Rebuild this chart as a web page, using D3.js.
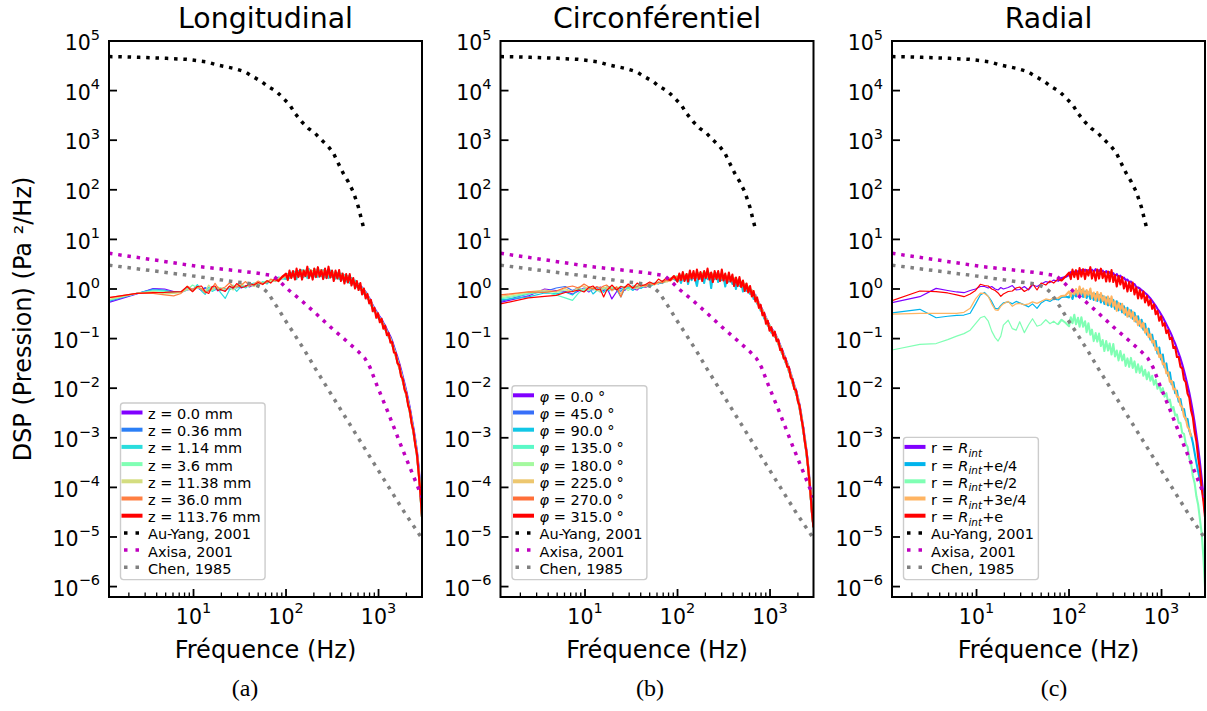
<!DOCTYPE html>
<html lang="fr">

<head>
    <meta charset="UTF-8" />
    <title>DSP de pression</title>
    <script src="https://d3js.org/d3.v7.min.js"></script>
    <style>
        body { margin: 0; background: #fff; }
        svg text { font-family: "DejaVu Sans", sans-serif; fill: #000; white-space: pre; }
        svg text.caption { font-family: "Liberation Serif", serif; }
    </style>
</head>

<body>
    <script>
        // frequency bins shared by every measured spectrum (Hz)
        const freq = [1.22, 2.44, 3.66, 4.88, 6.1, 7.32, 8.54, 9.76, 11.0, 12.2, 13.4, 14.6, 15.9, 17.1, 18.3, 19.5,
            22.0, 24.4, 26.8, 29.3, 32.9, 36.6, 40.3, 45.1, 50.0, 56.1, 62.2, 68.3, 75.6, 83.0, 91.5,
            100, 104.5, 109, 114, 119, 125, 130, 136, 142, 149,
            155, 162, 170, 177, 185, 194, 202, 211, 221, 231,
            241, 252, 264, 275, 288, 301, 314, 328, 343, 359,
            375, 392, 409, 428, 447, 467, 488, 510, 533, 557,
            582, 608, 636, 664, 694, 725, 758, 792, 828, 865,
            904, 945, 987, 1032, 1078, 1127, 1177, 1230, 1286, 1344,
            1404, 1467, 1533, 1602, 1674, 1750, 1828, 1911, 1997, 2086,
            2180, 2278, 2381, 2488, 2600, 2717, 2839, 2950];

        // measured spectra, stored as log10 of the DSP (Pa^2/Hz)
        // (a) longitudinal positions
        const zLabels = ["z = 0.0 mm", "z = 0.36 mm", "z = 1.14 mm", "z = 3.6 mm", "z = 11.38 mm", "z = 36.0 mm", "z = 113.76 mm"];
        const dspZ0 = [-0.27, -0.1, 0.01, 0.0, -0.05, -0.07, -0.02, 0.0, 0.03, -0.03, 0.02, 0.0, -0.02, 0.03, -0.04, 0.01,
            -0.03, 0.04, 0.0, 0.06, 0.02, 0.07, 0.04, 0.09, 0.1, 0.12, 0.14, 0.15, 0.19, 0.2, 0.23,
            0.22, 0.3, 0.25, 0.31, 0.27, 0.33, 0.28, 0.34, 0.27, 0.33, 0.29, 0.34, 0.3, 0.36, 0.28, 0.35, 0.3, 0.35, 0.29, 0.34,
            0.28, 0.33, 0.3, 0.34, 0.27, 0.32, 0.28, 0.31, 0.26, 0.3, 0.25, 0.29, 0.24, 0.26, 0.21, 0.23, 0.18, 0.2, 0.15, 0.16,
            0.11, 0.1, 0.06, 0.03, -0.02, -0.06, -0.12, -0.18, -0.25, -0.33, -0.39, -0.45, -0.51, -0.56, -0.61, -0.68, -0.74, -0.82, -0.89, -0.96,
            -1.05, -1.16, -1.27, -1.38, -1.5, -1.63, -1.77, -1.91, -2.06, -2.22, -2.4, -2.6, -2.8, -3.02, -3.27, -3.6, -4.05, -4.55];
        const dspZ036 = [-0.25, -0.09, 0.0, -0.02, -0.06, -0.06, 0.0, -0.03, 0.05, -0.01, 0.03, -0.04, 0.04, 0.0, 0.02, -0.03,
            0.01, 0.0, 0.05, 0.02, 0.07, 0.03, 0.08, 0.06, 0.11, 0.13, 0.12, 0.17, 0.18, 0.22, 0.22,
            0.24, 0.28, 0.26, 0.32, 0.26, 0.31, 0.3, 0.33, 0.29, 0.35, 0.28, 0.33, 0.31, 0.34, 0.3, 0.36, 0.29, 0.34, 0.31, 0.33,
            0.29, 0.34, 0.28, 0.33, 0.3, 0.31, 0.27, 0.31, 0.27, 0.29, 0.26, 0.27, 0.25, 0.24, 0.22, 0.21, 0.19, 0.17, 0.16, 0.13,
            0.11, 0.07, 0.05, 0.01, -0.03, -0.08, -0.14, -0.2, -0.27, -0.35, -0.41, -0.47, -0.53, -0.58, -0.63, -0.7, -0.77, -0.85, -0.92, -0.99,
            -1.08, -1.19, -1.3, -1.42, -1.54, -1.67, -1.81, -1.95, -2.1, -2.26, -2.44, -2.64, -2.84, -3.06, -3.31, -3.65, -4.1, -4.58];
        const dspZ114 = [-0.23, -0.09, -0.02, -0.03, -0.07, -0.06, 0.03, -0.02, 0.09, -0.04, -0.11, 0.04, -0.05, -0.02, 0.03, -0.07,
            -0.19, -0.02, 0.04, -0.05, 0.06, 0.02, 0.09, 0.12, 0.08, 0.15, 0.1, 0.18, 0.15, 0.23, 0.21,
            0.2, 0.3, 0.22, 0.33, 0.25, 0.35, 0.2, 0.36, 0.27, 0.38, 0.24, 0.37, 0.22, 0.4, 0.27, 0.36, 0.25, 0.39, 0.24, 0.37,
            0.26, 0.38, 0.23, 0.36, 0.22, 0.37, 0.24, 0.33, 0.21, 0.32, 0.2, 0.31, 0.19, 0.28, 0.15, 0.26, 0.12, 0.22, 0.09, 0.17,
            0.04, 0.1, -0.02, 0.02, -0.1, -0.08, -0.2, -0.2, -0.33, -0.36, -0.46, -0.49, -0.58, -0.6, -0.68, -0.72, -0.82, -0.87, -0.97, -1.01,
            -1.13, -1.22, -1.35, -1.45, -1.59, -1.7, -1.86, -1.98, -2.15, -2.29, -2.49, -2.67, -2.89, -3.09, -3.36, -3.69, -4.16, -4.6];
        const dspZ36 = [-0.22, -0.09, -0.04, -0.05, -0.08, -0.07, -0.02, 0.08, 0.02, 0.0, -0.05, 0.01, -0.03, 0.04, 0.0, 0.03,
            -0.02, 0.05, 0.08, 0.03, 0.07, 0.05, 0.06, 0.1, 0.09, 0.14, 0.16, 0.15, 0.2, 0.19, 0.24,
            0.28, 0.24, 0.32, 0.25, 0.33, 0.27, 0.36, 0.28, 0.37, 0.26, 0.38, 0.27, 0.4, 0.28, 0.38, 0.29, 0.39, 0.28, 0.41, 0.27,
            0.38, 0.29, 0.37, 0.28, 0.39, 0.26, 0.35, 0.27, 0.33, 0.25, 0.32, 0.24, 0.3, 0.21, 0.26, 0.19, 0.22, 0.15, 0.18, 0.11,
            0.12, 0.05, 0.06, -0.02, -0.02, -0.1, -0.13, -0.22, -0.26, -0.37, -0.41, -0.49, -0.53, -0.6, -0.64, -0.72, -0.78, -0.87, -0.93, -1.01,
            -1.1, -1.22, -1.32, -1.45, -1.56, -1.7, -1.83, -1.98, -2.12, -2.29, -2.46, -2.67, -2.86, -3.09, -3.33, -3.69, -4.14, -4.6];
        const dspZ1138 = [-0.21, -0.09, -0.05, -0.1, -0.09, -0.07, 0.0, -0.04, 0.03, 0.01, -0.04, 0.08, -0.01, 0.02, 0.05, -0.02,
            0.0, 0.03, -0.02, 0.06, 0.11, 0.04, 0.08, 0.05, 0.12, 0.1, 0.15, 0.17, 0.16, 0.21, 0.22,
            0.27, 0.29, 0.3, 0.29, 0.32, 0.3, 0.35, 0.31, 0.36, 0.3, 0.37, 0.31, 0.39, 0.3, 0.38, 0.32, 0.4, 0.31, 0.37, 0.3,
            0.38, 0.31, 0.39, 0.3, 0.36, 0.29, 0.35, 0.28, 0.34, 0.27, 0.31, 0.25, 0.29, 0.22, 0.25, 0.19, 0.21, 0.15, 0.17, 0.11,
            0.11, 0.05, 0.05, -0.02, -0.03, -0.11, -0.14, -0.23, -0.27, -0.38, -0.42, -0.5, -0.54, -0.61, -0.65, -0.73, -0.79, -0.88, -0.94, -1.02,
            -1.11, -1.23, -1.33, -1.46, -1.57, -1.71, -1.84, -1.99, -2.13, -2.3, -2.47, -2.68, -2.87, -3.1, -3.34, -3.7, -4.15, -4.6];
        const dspZ360 = [-0.175, -0.09, -0.09, -0.12, -0.14, -0.09, 0.06, -0.01, 0.05, 0.0, -0.08, -0.04, 0.02, 0.115, 0.03, 0.0,
            0.04, 0.12, 0.05, 0.04, 0.08, 0.15, 0.06, 0.1, 0.16, 0.11, 0.13, 0.2, 0.17, 0.18, 0.25,
            0.26, 0.22, 0.3, 0.24, 0.31, 0.25, 0.33, 0.26, 0.34, 0.27, 0.33, 0.26, 0.35, 0.27, 0.34, 0.26, 0.36, 0.27, 0.35, 0.26,
            0.34, 0.27, 0.35, 0.26, 0.33, 0.26, 0.32, 0.25, 0.31, 0.24, 0.3, 0.23, 0.28, 0.2, 0.24, 0.17, 0.2, 0.13, 0.16, 0.09,
            0.1, 0.03, 0.04, -0.04, -0.04, -0.12, -0.15, -0.24, -0.28, -0.39, -0.43, -0.51, -0.55, -0.62, -0.66, -0.74, -0.8, -0.89, -0.95, -1.03,
            -1.12, -1.24, -1.34, -1.47, -1.58, -1.72, -1.85, -2.0, -2.14, -2.31, -2.48, -2.69, -2.88, -3.11, -3.35, -3.71, -4.15, -4.6];
        const dspZ11376 = [-0.175, -0.09, -0.075, -0.07, -0.06, -0.055, 0.05, -0.055, 0.05, 0.06, -0.055, -0.09, 0.05, 0.06, -0.03, -0.01,
            -0.05, 0.06, 0.02, 0.11, 0.03, 0.05, 0.11, 0.08, 0.13, 0.09, 0.17, 0.12, 0.21, 0.16, 0.25,
            0.31, 0.18, 0.37, 0.22, 0.36, 0.19, 0.41, 0.24, 0.39, 0.19, 0.37, 0.26, 0.45, 0.22, 0.37, 0.19, 0.41, 0.24, 0.44, 0.25,
            0.38, 0.2, 0.41, 0.22, 0.45, 0.23, 0.37, 0.16, 0.37, 0.21, 0.38, 0.16, 0.31, 0.11, 0.3, 0.13, 0.3, 0.07, 0.22, 0.01,
            0.16, -0.02, 0.12, -0.11, 0.01, -0.19, -0.1, -0.29, -0.22, -0.45, -0.38, -0.58, -0.49, -0.67, -0.6, -0.8, -0.74, -0.93, -0.89, -1.08,
            -1.07, -1.28, -1.29, -1.5, -1.53, -1.76, -1.81, -2.03, -2.1, -2.34, -2.45, -2.71, -2.85, -3.13, -3.32, -3.72, -4.13, -4.6];

        // (b) circumferential positions
        const phiLabels = ["φ = 0.0 °", "φ = 45.0 °", "φ = 90.0 °", "φ = 135.0 °", "φ = 180.0 °", "φ = 225.0 °", "φ = 270.0 °", "φ = 315.0 °"];
        const dspPhi0 = [-0.27, -0.14, 0.0, -0.03, -0.05, -0.1, -0.04, 0.02, -0.06, 0.01, -0.02, 0.04, -0.03, 0.02, -0.08, -0.2,
            -0.05, 0.02, -0.03, 0.05, 0.0, -0.02, 0.06, 0.03, 0.08, 0.1, 0.13, 0.12, 0.18, 0.2, 0.22,
            0.25, 0.19, 0.27, 0.2, 0.28, 0.21, 0.29, 0.22, 0.3, 0.22, 0.3, 0.23, 0.31, 0.23, 0.32, 0.24, 0.31, 0.24, 0.32, 0.23,
            0.3, 0.23, 0.31, 0.22, 0.29, 0.22, 0.28, 0.2, 0.26, 0.19, 0.24, 0.17, 0.21, 0.14, 0.18, 0.1, 0.14, 0.07, 0.1, 0.02,
            0.04, -0.03, -0.03, -0.1, -0.12, -0.22, -0.28, -0.36, -0.42, -0.5, -0.58, -0.66, -0.73, -0.79, -0.84, -0.89, -0.96, -1.04, -1.13, -1.22,
            -1.31, -1.4, -1.49, -1.59, -1.7, -1.82, -1.94, -2.04, -2.18, -2.34, -2.54, -2.77, -3.01, -3.28, -3.6, -4.0, -4.45, -4.8];
        const dspPhi45 = [-0.25, -0.1, -0.05, 0.02, 0.05, -0.03, 0.03, -0.04, 0.05, -0.02, 0.04, -0.06, 0.03, -0.01, 0.05, -0.03,
            0.02, -0.05, 0.04, 0.01, 0.06, 0.03, 0.02, 0.08, 0.06, 0.12, 0.1, 0.15, 0.17, 0.19, 0.21,
            0.19, 0.26, 0.2, 0.27, 0.21, 0.28, 0.22, 0.29, 0.22, 0.3, 0.23, 0.3, 0.22, 0.31, 0.24, 0.31, 0.24, 0.32, 0.23, 0.3,
            0.23, 0.3, 0.22, 0.29, 0.22, 0.28, 0.2, 0.27, 0.19, 0.25, 0.17, 0.22, 0.14, 0.2, 0.11, 0.16, 0.07, 0.12, 0.03, 0.07,
            -0.03, 0.01, -0.1, -0.07, -0.19, -0.21, -0.34, -0.35, -0.48, -0.51, -0.64, -0.67, -0.79, -0.8, -0.9, -0.9, -1.02, -1.05, -1.19, -1.23,
            -1.37, -1.41, -1.55, -1.6, -1.76, -1.83, -2.0, -2.05, -2.24, -2.35, -2.6, -2.79, -3.08, -3.3, -3.66, -4.03, -4.5, -4.8];
        const dspPhi90 = [-0.22, -0.16, -0.08, -0.1, -0.06, -0.12, 0.0, -0.05, 0.04, -0.1, -0.03, 0.02, -0.07, 0.0, -0.04, 0.03,
            -0.02, -0.16, 0.0, 0.04, -0.03, 0.05, 0.01, 0.07, 0.04, 0.1, 0.13, 0.11, 0.16, 0.2, 0.2,
            0.16, 0.24, 0.12, 0.25, 0.17, 0.28, 0.1, 0.27, 0.18, 0.29, 0.2, 0.06, 0.28, 0.21, 0.3, 0.12, 0.29, 0.2, 0.31, 0.02,
            0.27, 0.2, 0.3, 0.14, 0.28, 0.18, 0.26, 0.05, 0.24, 0.15, 0.22, 0.1, 0.2, 0.0, 0.17, 0.06, 0.13, -0.05, 0.08, -0.04,
            0.02, -0.1, -0.05, -0.2, -0.14, -0.3, -0.3, -0.44, -0.44, -0.6, -0.6, -0.74, -0.76, -0.88, -0.87, -0.97, -0.99, -1.12, -1.16, -1.3,
            -1.34, -1.48, -1.52, -1.67, -1.73, -1.9, -1.97, -2.12, -2.21, -2.42, -2.57, -2.86, -3.05, -3.37, -3.64, -4.08, -4.5, -4.8];
        const dspPhi135 = [-0.2, -0.1, -0.06, -0.12, -0.18, -0.23, -0.08, 0.01, -0.04, 0.03, -0.02, -0.06, 0.02, -0.03, 0.04, 0.0,
            0.03, -0.02, 0.05, 0.01, 0.06, 0.02, 0.08, 0.05, 0.09, 0.12, 0.11, 0.16, 0.15, 0.2, 0.23,
            0.25, 0.2, 0.27, 0.21, 0.27, 0.22, 0.29, 0.23, 0.28, 0.24, 0.3, 0.24, 0.31, 0.24, 0.3, 0.25, 0.32, 0.25, 0.31, 0.24,
            0.3, 0.24, 0.3, 0.23, 0.29, 0.22, 0.28, 0.21, 0.26, 0.19, 0.24, 0.17, 0.21, 0.14, 0.18, 0.1, 0.14, 0.06, 0.1, 0.01,
            0.04, -0.05, -0.03, -0.13, -0.14, -0.27, -0.29, -0.41, -0.43, -0.56, -0.59, -0.72, -0.74, -0.85, -0.86, -0.95, -0.98, -1.1, -1.15, -1.28,
            -1.33, -1.46, -1.51, -1.65, -1.72, -1.88, -1.96, -2.1, -2.2, -2.4, -2.56, -2.84, -3.04, -3.35, -3.63, -4.07, -4.48, -4.8];
        const dspPhi180 = [-0.18, -0.08, -0.04, -0.07, -0.02, -0.05, 0.02, -0.03, 0.05, 0.0, -0.04, 0.03, 0.0, 0.05, -0.02, 0.04,
            0.01, 0.06, 0.02, -0.03, 0.05, 0.08, 0.04, 0.09, 0.07, 0.1, 0.14, 0.13, 0.17, 0.19, 0.24,
            0.26, 0.21, 0.27, 0.22, 0.29, 0.23, 0.3, 0.24, 0.3, 0.25, 0.31, 0.25, 0.32, 0.25, 0.33, 0.26, 0.33, 0.26, 0.32, 0.25,
            0.31, 0.25, 0.31, 0.24, 0.3, 0.23, 0.29, 0.22, 0.27, 0.2, 0.25, 0.18, 0.22, 0.15, 0.19, 0.11, 0.15, 0.07, 0.11, 0.02,
            0.05, -0.04, -0.02, -0.12, -0.13, -0.26, -0.28, -0.4, -0.42, -0.55, -0.58, -0.71, -0.73, -0.84, -0.85, -0.94, -0.97, -1.09, -1.14, -1.27,
            -1.32, -1.45, -1.5, -1.64, -1.71, -1.87, -1.95, -2.09, -2.19, -2.39, -2.55, -2.83, -3.03, -3.34, -3.62, -4.06, -4.48, -4.8];
        const dspPhi225 = [-0.15, -0.06, -0.02, -0.05, 0.01, -0.06, 0.04, 0.06, -0.02, 0.03, 0.0, -0.05, 0.04, 0.01, 0.03, -0.04,
            0.05, -0.1, 0.02, 0.06, 0.03, 0.0, 0.07, 0.04, 0.1, 0.08, 0.12, 0.15, 0.14, 0.2, 0.22,
            0.2, 0.25, 0.21, 0.26, 0.22, 0.27, 0.23, 0.28, 0.23, 0.29, 0.24, 0.29, 0.24, 0.3, 0.25, 0.3, 0.25, 0.31, 0.25, 0.3,
            0.24, 0.29, 0.24, 0.28, 0.23, 0.27, 0.22, 0.26, 0.2, 0.24, 0.18, 0.21, 0.15, 0.19, 0.12, 0.15, 0.08, 0.11, 0.04, 0.06,
            -0.02, 0.0, -0.09, -0.08, -0.2, -0.22, -0.35, -0.36, -0.49, -0.52, -0.65, -0.68, -0.8, -0.81, -0.91, -0.91, -1.03, -1.06, -1.2, -1.24,
            -1.38, -1.42, -1.56, -1.61, -1.77, -1.84, -2.01, -2.06, -2.25, -2.36, -2.61, -2.8, -3.09, -3.31, -3.67, -4.03, -4.52, -4.8];
        const dspPhi270 = [-0.12, -0.06, -0.07, -0.04, 0.03, 0.06, 0.02, 0.1, 0.04, 0.0, 0.05, 0.02, 0.06, 0.08, 0.03, -0.02,
            0.04, -0.16, 0.03, 0.06, 0.02, 0.05, 0.09, 0.06, 0.11, 0.09, 0.14, 0.12, 0.18, 0.17, 0.23,
            0.24, 0.21, 0.26, 0.21, 0.26, 0.22, 0.28, 0.23, 0.27, 0.24, 0.29, 0.24, 0.29, 0.24, 0.3, 0.25, 0.3, 0.25, 0.3, 0.24,
            0.29, 0.24, 0.29, 0.23, 0.28, 0.22, 0.27, 0.21, 0.25, 0.19, 0.23, 0.17, 0.2, 0.14, 0.17, 0.1, 0.13, 0.06, 0.09, 0.01,
            0.03, -0.05, -0.04, -0.13, -0.15, -0.27, -0.3, -0.41, -0.44, -0.56, -0.6, -0.72, -0.75, -0.85, -0.87, -0.95, -0.99, -1.1, -1.16, -1.28,
            -1.34, -1.46, -1.52, -1.65, -1.73, -1.88, -1.97, -2.1, -2.21, -2.4, -2.57, -2.84, -3.05, -3.35, -3.64, -4.07, -4.5, -4.8];
        const dspPhi315 = [-0.3, -0.18, -0.15, -0.13, -0.07, -0.05, -0.02, -0.06, 0.03, 0.06, -0.02, 0.0, -0.16, -0.03, 0.02, 0.08,
            -0.02, 0.05, 0.03, 0.1, 0.02, 0.12, 0.06, 0.09, 0.14, 0.1, 0.2, 0.15, 0.22, 0.18, 0.26,
            0.15, 0.31, 0.18, 0.34, 0.16, 0.3, 0.15, 0.37, 0.21, 0.36, 0.17, 0.39, 0.2, 0.34, 0.16, 0.36, 0.22, 0.41, 0.19, 0.33,
            0.14, 0.36, 0.2, 0.36, 0.16, 0.39, 0.17, 0.31, 0.12, 0.33, 0.15, 0.29, 0.06, 0.23, 0.06, 0.24, 0.04, 0.17, -0.04, 0.11,
            -0.07, 0.06, -0.15, -0.04, -0.25, -0.17, -0.38, -0.32, -0.53, -0.48, -0.7, -0.64, -0.84, -0.77, -0.94, -0.86, -1.05, -1.02, -1.23, -1.21,
            -1.4, -1.39, -1.57, -1.58, -1.79, -1.82, -2.02, -2.04, -2.26, -2.35, -2.61, -2.79, -3.09, -3.3, -3.67, -4.03, -4.52, -4.8];

        // (c) radial positions
        const rLabels = ["r = R_int", "r = R_int+e/4", "r = R_int+e/2", "r = R_int+3e/4", "r = R_int+e"];
        const dspRint = [-0.275, -0.155, 0.013, -0.03, -0.06, -0.075, -0.03, 0.0, 0.05, 0.05, 0.02, 0.05, 0.0, -0.02, 0.03, 0.0,
            0.03, 0.07, -0.02, -0.01, 0.05, -0.02, 0.08, 0.05, 0.1, 0.15, 0.13, 0.18, 0.16, 0.22, 0.24,
            0.28, 0.34, 0.31, 0.35, 0.32, 0.36, 0.33, 0.38, 0.34, 0.39, 0.35, 0.38, 0.36, 0.39, 0.35, 0.4, 0.34, 0.38, 0.33, 0.37,
            0.32, 0.36, 0.31, 0.34, 0.29, 0.32, 0.26, 0.3, 0.24, 0.27, 0.21, 0.23, 0.18, 0.19, 0.14, 0.15, 0.09, 0.1, 0.04, 0.03,
            0.01, -0.02, -0.05, -0.08, -0.11, -0.15, -0.19, -0.24, -0.29, -0.34, -0.4, -0.45, -0.51, -0.57, -0.64, -0.71, -0.78, -0.85, -0.93, -1.02,
            -1.1, -1.2, -1.3, -1.4, -1.52, -1.65, -1.79, -1.94, -2.09, -2.27, -2.47, -2.69, -2.94, -3.2, -3.49, -3.82, -4.17, -4.52];
        const dspRe4 = [-0.48, -0.41, -0.58, -0.55, -0.53, -0.525, -0.49, -0.3, -0.12, -0.07, -0.15, -0.25, -0.39, -0.4, -0.33, -0.28,
            -0.26, -0.3, -0.25, -0.28, -0.32, -0.36, -0.3, -0.39, -0.28, -0.22, -0.25, -0.2, -0.22, -0.16, -0.15,
            -0.17, -0.08, -0.2, -0.06, -0.15, -0.04, -0.14, -0.02, -0.16, -0.05, -0.18, -0.07, -0.2, -0.09, -0.22, -0.1, -0.24, -0.12, -0.27, -0.14,
            -0.3, -0.17, -0.33, -0.2, -0.36, -0.22, -0.4, -0.25, -0.43, -0.3, -0.47, -0.35, -0.52, -0.38, -0.55, -0.43, -0.6, -0.48, -0.66, -0.55,
            -0.74, -0.62, -0.82, -0.7, -0.92, -0.8, -1.02, -0.92, -1.14, -1.05, -1.3, -1.18, -1.42, -1.32, -1.58, -1.5, -1.75, -1.68, -1.92, -1.88,
            -2.1, -2.05, -2.27, -2.22, -2.44, -2.42, -2.64, -2.62, -2.86, -2.95, -3.1, -3.3, -3.5, -3.68, -3.85, -4.0, -4.2, -4.4];
        const dspRe2 = [-1.23, -1.115, -1.1, -1.02, -0.95, -0.9, -0.83, -0.7, -0.58, -0.55, -0.65, -0.85, -0.98, -1.05, -0.95, -0.73,
            -0.63, -0.8, -0.83, -0.66, -0.88, -0.72, -0.6, -0.75, -0.72, -0.62, -0.7, -0.65, -0.72, -0.62, -0.68,
            -0.75, -0.57, -0.69, -0.52, -0.71, -0.58, -0.76, -0.57, -0.76, -0.65, -0.87, -0.69, -0.92, -0.82, -1.05, -0.89, -1.06, -0.9, -1.15, -1.03,
            -1.25, -1.05, -1.24, -1.1, -1.32, -1.11, -1.36, -1.24, -1.44, -1.25, -1.44, -1.32, -1.55, -1.4, -1.57, -1.39, -1.59, -1.46, -1.68, -1.52,
            -1.69, -1.56, -1.75, -1.63, -1.82, -1.68, -1.85, -1.75, -1.93, -1.83, -2.01, -1.91, -2.08, -2.0, -2.17, -2.1, -2.28, -2.23, -2.42, -2.38,
            -2.55, -2.53, -2.7, -2.7, -2.9, -2.92, -3.12, -3.18, -3.41, -3.52, -3.77, -3.91, -4.18, -4.35, -4.64, -4.93, -5.42, -6.0];
        const dspR3e4 = [-0.505, -0.49, -0.49, -0.49, -0.49, -0.47, -0.39, -0.2, -0.085, -0.09, -0.15, -0.3, -0.42, -0.43, -0.35, -0.3,
            -0.25, -0.35, -0.3, -0.29, -0.32, -0.3, -0.26, -0.29, -0.25, -0.2, -0.22, -0.17, -0.19, -0.14, -0.13,
            -0.05, -0.15, 0.0, -0.11, 0.0, -0.13, 0.05, -0.1, 0.01, -0.16, -0.02, -0.12, 0.01, -0.18, -0.07, -0.23, -0.06, -0.22, -0.08, -0.24,
            -0.15, -0.31, -0.15, -0.32, -0.15, -0.35, -0.25, -0.44, -0.28, -0.42, -0.3, -0.49, -0.39, -0.56, -0.42, -0.58, -0.46, -0.65, -0.55, -0.73,
            -0.63, -0.78, -0.68, -0.88, -0.8, -0.97, -0.91, -1.08, -1.04, -1.23, -1.19, -1.37, -1.33, -1.52, -1.5, -1.7, -1.68, -1.87, -1.85, -2.02,
            -2.01, -2.17, -2.18, -2.35, -2.38, -2.57, -2.61, -2.78, -2.83, -2.98, null, null, null, null, null, null, null, null];
        const dspRe = [-0.235, -0.04, -0.055, -0.08, -0.12, -0.155, -0.1, -0.03, 0.095, 0.07, 0.06, 0.0, -0.03, -0.08, -0.15, -0.1,
            -0.05, -0.04, 0.02, 0.04, -0.05, 0.0, 0.11, -0.02, 0.12, 0.08, 0.16, 0.12, 0.2, 0.17, 0.25,
            0.33, 0.2, 0.39, 0.24, 0.38, 0.2, 0.42, 0.25, 0.4, 0.2, 0.38, 0.27, 0.44, 0.21, 0.36, 0.17, 0.39, 0.21, 0.41, 0.22,
            0.34, 0.15, 0.35, 0.15, 0.38, 0.14, 0.28, 0.05, 0.26, 0.09, 0.24, 0.01, 0.15, -0.05, 0.14, -0.04, 0.13, -0.11, 0.03, -0.19,
            -0.02, -0.19, -0.05, -0.27, -0.14, -0.33, -0.22, -0.4, -0.31, -0.51, -0.44, -0.64, -0.55, -0.74, -0.69, -0.89, -0.83, -1.01, -0.98, -1.19,
            -1.17, -1.37, -1.37, -1.57, -1.6, -1.83, -1.88, -2.11, -2.19, -2.45, -2.59, -2.88, -3.07, -3.4, -3.64, -4.02, -4.28, -4.6];

        // published reference spectra (log10 of DSP)
        const refLabels = ["Au-Yang, 2001", "Axisa, 2001", "Chen, 1985"];
        const auYangFreq = [1.22, 1.6, 2.6, 5.1, 8.4, 13.9, 17.8, 26.9, 36, 44, 54.6, 64, 79, 93.5, 110, 125, 148, 174, 206, 243, 287, 325, 368, 416, 471, 533, 604, 684, 700];
        const auYangDsp = [4.685, 4.683, 4.67, 4.65, 4.63, 4.58, 4.52, 4.45, 4.38, 4.28, 4.18, 4.08, 3.98, 3.845, 3.71, 3.54, 3.37, 3.24, 3.14, 3.0, 2.87, 2.74, 2.53, 2.33, 2.16, 1.96, 1.66, 1.26, 1.2];
        const axisaFreq = [1.22, 11.7, 45, 72, 86, 102, 148, 209, 299, 427, 604, 714, 809, 955, 1256, 1778, 2541, 2950];
        const axisaDsp = [0.72, 0.45, 0.33, 0.27, 0.15, 0.01, -0.24, -0.49, -0.76, -1.01, -1.26, -1.4, -1.58, -1.93, -2.47, -3.19, -3.9, -4.2];
        const chenFreq = [1.22, 8.4, 27, 44, 55, 64, 73, 84, 95, 108, 123, 139, 158, 179, 202, 427, 916, 1931, 2950];
        const chenDsp = [0.48, 0.28, 0.15, 0.1, 0.03, -0.08, -0.25, -0.42, -0.59, -0.75, -0.91, -1.07, -1.23, -1.4, -1.57, -2.55, -3.55, -4.52, -5.03];

        // axes ticks
        const yTickExp = [-6, -5, -4, -3, -2, -1, 0, 1, 2, 3, 4, 5];
        const xTickExp = [1, 2, 3];

        // layout
        var w = 1207, h = 711;
        var plotTop = 41, plotBottom = 597, plotWidth = 313;
        var panelLeft = [109, 500.5, 892];
        // above this bin the spectra are so dense that they read as a thick band
        var denseFrom = 28;

        var svg = d3.select("body").append("svg")
            .attr("width", w)
            .attr("height", h);

        // matplotlib "rainbow" colormap
        function rainbow(t) {
            var r = Math.min(1, Math.abs(2 * t - 0.5));
            var g = Math.sin(Math.PI * t);
            var b = Math.max(0, Math.cos(Math.PI * t / 2));
            return d3.rgb(r * 255, g * 255, b * 255).formatHex();
        }

        var yScale = d3.scaleLog()
            .domain([Math.pow(10, -6.21), 1e5])
            .range([plotBottom, plotTop]);

        function powerLabel(text, e) {
            text.append("tspan").text("10");
            text.append("tspan")
                .attr("dy", -10.5)
                .attr("font-size", 14.5)
                .text(e < 0 ? "\u2212" + (-e) : String(e));
        }

        function writeLabel(text, label) {
            if (label.charAt(0) === "φ") {
                text.append("tspan").attr("font-style", "italic").text("φ");
                text.append("tspan").text(label.slice(1));
            } else if (label.indexOf("R_int") >= 0) {
                var parts = label.split("R_int");
                text.append("tspan").text(parts[0]);
                text.append("tspan").attr("font-style", "italic").text("R");
                text.append("tspan").attr("font-style", "italic").attr("font-size", 10.5).attr("dy", 3.5).text("int");
                text.append("tspan").attr("dy", -3.5).text(parts[1]);
            } else {
                text.text(label);
            }
        }

        var panels = [
            { title: "Longitudinal", caption: "(a)", captionX: 245, series: [dspZ0, dspZ036, dspZ114, dspZ36, dspZ1138, dspZ360, dspZ11376], labels: zLabels },
            { title: "Circonférentiel", caption: "(b)", captionX: 650, series: [dspPhi0, dspPhi45, dspPhi90, dspPhi135, dspPhi180, dspPhi225, dspPhi270, dspPhi315], labels: phiLabels },
            { title: "Radial", caption: "(c)", captionX: 1054, series: [dspRint, dspRe4, dspRe2, dspR3e4, dspRe], labels: rLabels }
        ];

        var refs = [
            { f: auYangFreq, v: auYangDsp, color: "#000000" },
            { f: axisaFreq, v: axisaDsp, color: "#bf00bf" },
            { f: chenFreq, v: chenDsp, color: "#808080" }
        ];

        panels.forEach(function (p, pi) {
            var left = panelLeft[pi];
            var xScale = d3.scaleLog()
                .domain([1.22, 2950])
                .range([left, left + plotWidth]);

            var g = svg.append("g");

            g.append("clipPath").attr("id", "clip" + pi)
                .append("rect")
                .attr("x", left).attr("y", plotTop)
                .attr("width", plotWidth).attr("height", plotBottom - plotTop);

            var plot = g.append("g").attr("clip-path", "url(#clip" + pi + ")");

            // measured spectra: sparse low-frequency part thin, dense part thicker
            p.series.forEach(function (vals, si) {
                var color = rainbow(si / (p.series.length - 1));
                [[0, denseFrom + 1, 1.2], [denseFrom, freq.length, 2.1]].forEach(function (part) {
                    var line = d3.line()
                        .defined(function (v, i) { return v != null && i >= part[0] && i < part[1]; })
                        .x(function (v, i) { return xScale(freq[i]); })
                        .y(function (v) { return yScale(Math.pow(10, v)); });
                    plot.append("path")
                        .datum(vals)
                        .attr("fill", "none")
                        .attr("stroke", color)
                        .attr("stroke-width", part[2])
                        .attr("stroke-linejoin", "round")
                        .attr("d", line);
                });
            });

            // reference spectra, dotted
            refs.forEach(function (r) {
                var line = d3.line()
                    .x(function (v, i) { return xScale(r.f[i]); })
                    .y(function (v) { return yScale(Math.pow(10, v)); });
                plot.append("path")
                    .datum(r.v)
                    .attr("fill", "none")
                    .attr("stroke", r.color)
                    .attr("stroke-width", 3.5)
                    .attr("stroke-dasharray", "3.5,5.8")
                    .attr("d", line);
            });

            // frame
            g.append("rect")
                .attr("x", left).attr("y", plotTop)
                .attr("width", plotWidth).attr("height", plotBottom - plotTop)
                .attr("fill", "none")
                .attr("stroke", "#000")
                .attr("stroke-width", 2);

            // y ticks
            yTickExp.forEach(function (e) {
                var yy = yScale(Math.pow(10, e));
                g.append("line")
                    .attr("x1", left).attr("x2", left + 8)
                    .attr("y1", yy).attr("y2", yy)
                    .attr("stroke", "#000").attr("stroke-width", 1.8);
                var t = g.append("text")
                    .attr("x", left - 9)
                    .attr("y", yy + 9.3)
                    .attr("text-anchor", "end")
                    .attr("font-size", 20.5);
                powerLabel(t, e);
            });

            // x ticks: majors with labels, minors at 2..9 of each decade
            xTickExp.forEach(function (e) {
                var xx = xScale(Math.pow(10, e));
                g.append("line")
                    .attr("x1", xx).attr("x2", xx)
                    .attr("y1", plotBottom).attr("y2", plotBottom - 8)
                    .attr("stroke", "#000").attr("stroke-width", 1.8);
                var t = g.append("text")
                    .attr("x", xx)
                    .attr("y", 623.5)
                    .attr("text-anchor", "middle")
                    .attr("font-size", 20.5);
                powerLabel(t, e);
            });
            [1, 10, 100, 1000].forEach(function (dec) {
                for (var m = 2; m <= 9; m++) {
                    var f = m * dec;
                    if (f < 1.22 || f > 2950) continue;
                    var xx = xScale(f);
                    g.append("line")
                        .attr("x1", xx).attr("x2", xx)
                        .attr("y1", plotBottom).attr("y2", plotBottom - 4.5)
                        .attr("stroke", "#000").attr("stroke-width", 1.3);
                }
            });

            // title, axis label, caption
            g.append("text")
                .attr("x", left + plotWidth / 2)
                .attr("y", 28.3)
                .attr("text-anchor", "middle")
                .attr("font-size", 28.4)
                .text(p.title);

            g.append("text")
                .attr("x", left + plotWidth / 2)
                .attr("y", 658.3)
                .attr("text-anchor", "middle")
                .attr("font-size", 24)
                .text("Fréquence (Hz)");

            g.append("text")
                .attr("class", "caption")
                .attr("x", p.captionX)
                .attr("y", 696)
                .attr("text-anchor", "middle")
                .attr("font-size", 24)
                .text(p.caption);

            // legend
            var nEntries = p.series.length + refs.length;
            var step = 17.2;
            var lastY = 567.3;
            var firstY = lastY - (nEntries - 1) * step;
            var boxLeft = left + 11.5;
            var lg = g.append("g");
            var box = lg.append("rect")
                .attr("x", boxLeft).attr("y", firstY - 9.5)
                .attr("height", plotBottom - 17.4 - (firstY - 9.5))
                .attr("rx", 3).attr("ry", 3)
                .attr("fill", "#fff").attr("fill-opacity", 0.8)
                .attr("stroke", "#cccccc").attr("stroke-width", 1.4);
            var maxLen = 0;
            var entries = p.labels.map(function (lab, si) {
                return { label: lab, color: rainbow(si / (p.series.length - 1)), dotted: false };
            }).concat(refs.map(function (r, ri) {
                return { label: refLabels[ri], color: r.color, dotted: true };
            }));
            entries.forEach(function (en, k) {
                var yy = firstY + k * step;
                if (en.dotted) {
                    lg.append("line")
                        .attr("x1", boxLeft + 3.5).attr("x2", boxLeft + 22)
                        .attr("y1", yy).attr("y2", yy)
                        .attr("stroke", en.color).attr("stroke-width", 3.5)
                        .attr("stroke-dasharray", "3.5,8");
                } else {
                    lg.append("line")
                        .attr("x1", boxLeft + 1).attr("x2", boxLeft + 22)
                        .attr("y1", yy).attr("y2", yy)
                        .attr("stroke", en.color).attr("stroke-width", 4);
                }
                var t = lg.append("text")
                    .attr("x", boxLeft + 27.5)
                    .attr("y", yy + 6.5)
                    .attr("font-size", 14.5);
                writeLabel(t, en.label);
                maxLen = Math.max(maxLen, t.node().getComputedTextLength());
            });
            box.attr("width", 27.5 + maxLen + 4.5);
        });

        // shared y axis title
        svg.append("text")
            .attr("transform", "translate(31, 319) rotate(-90)")
            .attr("text-anchor", "middle")
            .attr("font-size", 24)
            .text("DSP (Pression) (Pa ²/Hz)");
    </script>
</body>

</html>
